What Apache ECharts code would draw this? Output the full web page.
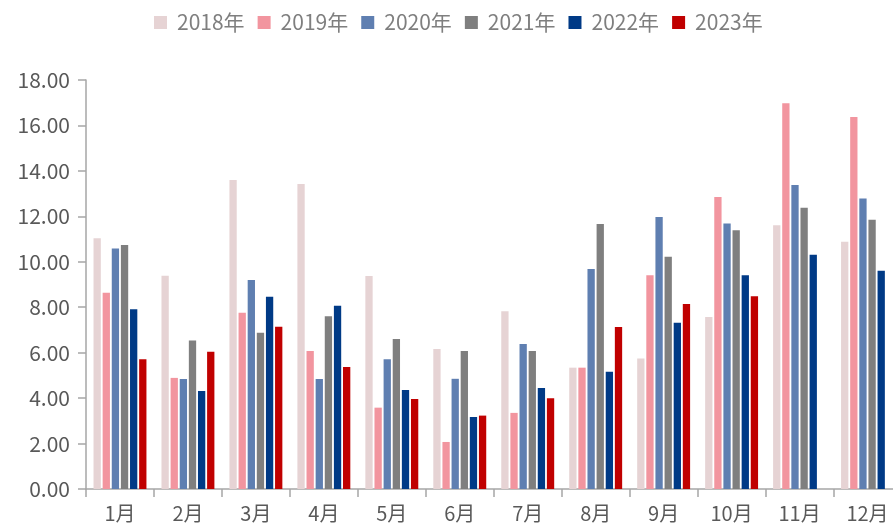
<!DOCTYPE html>
<html>
<head>
<meta charset="utf-8">
<script src="https://cdn.jsdelivr.net/npm/echarts@6/dist/echarts.min.js"></script>
<style>html,body{margin:0;padding:0;background:#fff}#c{width:893px;height:529px}</style>
</head>
<body>
<div id="c"></div>
<script>
const months = ['1月','2月','3月','4月','5月','6月','7月','8月','9月','10月','11月','12月'];
const seriesNames = ['2018年','2019年','2020年','2021年','2022年','2023年'];
const s2018 = [11.03, 9.39, 13.60, 13.42, 9.37, 6.16, 7.82, 5.34, 5.74, 7.57, 11.61, 10.88];
const s2019 = [8.64, 4.89, 7.76, 6.07, 3.58, 2.07, 3.35, 5.34, 9.41, 12.85, 16.98, 16.37];
const s2020 = [10.58, 4.84, 9.20, 4.84, 5.71, 4.85, 6.38, 9.68, 11.97, 11.69, 13.38, 12.79];
const s2021 = [10.74, 6.53, 6.88, 7.60, 6.60, 6.07, 6.07, 11.66, 10.22, 11.39, 12.38, 11.85];
const s2022 = [7.91, 4.31, 8.46, 8.07, 4.36, 3.17, 4.45, 5.16, 7.32, 9.41, 10.31, 9.61];
const s2023 = [5.71, 6.04, 7.14, 5.37, 3.96, 3.23, 3.99, 7.13, 8.14, 8.48, null, null];
const yTicks = { min: 0, max: 18, interval: 2 };

const colors = ['#E6D3D4', '#F2959F', '#5F7FB1', '#7F7F7F', '#003A86', '#C00000'];
const allData = [s2018, s2019, s2020, s2021, s2022, s2023];

const chart = echarts.init(document.getElementById('c'), null, { renderer: 'canvas' });
const font = '"Noto Sans CJK SC", "Liberation Sans", sans-serif';
chart.setOption({
  animation: false,
  color: colors,
  textStyle: { fontFamily: font },
  legend: {
    data: seriesNames,
    left: 154,
    top: 12,
    padding: 0,
    icon: 'rect',
    itemWidth: 13,
    itemHeight: 13,
    itemGap: 13,
    textStyle: { fontSize: 21, color: '#7F7F7F', fontFamily: font, padding: [0, 0, 0, 5] }
  },
  grid: { left: 86, width: 815.5, top: 80, bottom: 40, containLabel: false, outerBoundsMode: 'none' },
  xAxis: {
    type: 'category',
    data: months,
    boundaryGap: true,
    axisLine: { lineStyle: { color: '#A6A6A6', width: 1.5 } },
    axisTick: { show: true, length: 8, lineStyle: { color: '#A6A6A6', width: 1.5 } },
    axisLabel: { color: '#595959', fontSize: 20, margin: 14, fontFamily: font }
  },
  yAxis: {
    type: 'value',
    min: yTicks.min, max: yTicks.max, interval: yTicks.interval,
    splitLine: { show: false },
    axisLine: { show: true, lineStyle: { color: '#A6A6A6', width: 1.5 } },
    axisTick: { show: true, length: 8, lineStyle: { color: '#A6A6A6', width: 1.5 } },
    axisLabel: { color: '#595959', fontSize: 21, margin: 16, fontFamily: font,
      formatter: v => v.toFixed(2) }
  },
  series: seriesNames.map((n, i) => ({
    name: n,
    type: 'bar',
    data: allData[i],
    barWidth: 7.3,
    barGap: '25%'
  }))
});
</script>
</body>
</html>
